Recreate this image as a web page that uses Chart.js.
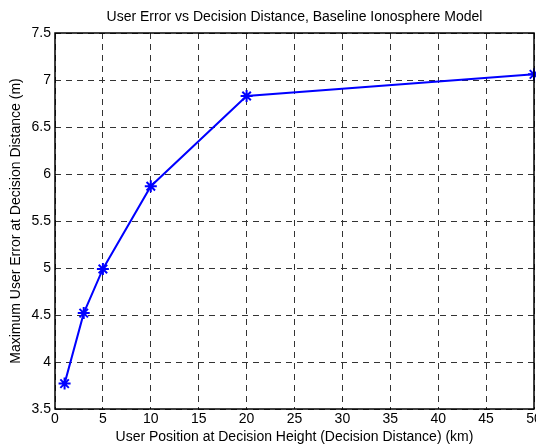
<!DOCTYPE html>
<html>
<head>
<meta charset="utf-8">
<script src="https://cdn.jsdelivr.net/npm/chart.js@4"></script>
<style>
  html, body { margin: 0; padding: 0; background: #fff; }
  #wrap { width: 536px; height: 446px; }
</style>
</head>
<body>
<div id="wrap"><canvas id="userErrorChart" width="536" height="446"></canvas></div>
<script>
const distances = [1, 3, 5, 10, 20, 50];
const userError = [3.77, 4.52, 4.99, 5.87, 6.83, 7.06];
const chartTitle = 'User Error vs Decision Distance, Baseline Ionosphere Model';

// closed MATLAB-style axes box plus title centred over the plot area
const frameBox = {
    id: 'frameBox',
    afterDraw(chart) {
        const a = chart.chartArea;
        const c = chart.ctx;
        c.save();
        c.setLineDash([]);
        c.strokeStyle = '#000';
        c.lineWidth = 1.5;
        c.strokeRect(a.left, a.top, a.right - a.left, a.bottom - a.top);
        c.fillStyle = '#000';
        c.font = '14px "Liberation Sans", Arial, sans-serif';
        c.textAlign = 'center';
        c.textBaseline = 'middle';
        c.fillText(chartTitle, (a.left + a.right) / 2, 17);
        c.restore();
    }
};

Chart.defaults.font.family = '"Liberation Sans", Arial, sans-serif';
Chart.defaults.font.size = 14;
Chart.defaults.color = '#000';

const ctx = document.getElementById('userErrorChart').getContext('2d');
const userErrorChart = new Chart(ctx, {
    type: 'line',
    data: {
        datasets: [{
            label: 'User Error',
            data: distances.map((d, i) => ({ x: d, y: userError[i] })),
            borderColor: '#0000ff',
            backgroundColor: '#0000ff',
            borderWidth: 2,
            pointStyle: 'star',
            pointRadius: 6,
            pointBorderWidth: 2,
            pointBorderColor: '#0000ff',
            tension: 0,
            clip: false
        }]
    },
    options: {
        responsive: false,
        animation: false,
        layout: { autoPadding: false, padding: { left: 0, right: 2, top: 33, bottom: 0 } },
        plugins: {
            legend: { display: false },
            tooltip: { enabled: false },
            title: { display: false }
        },
        scales: {
            x: {
                type: 'linear',
                min: 0,
                max: 50,
                ticks: { stepSize: 5, padding: 2 },
                grid: { color: '#333', lineWidth: 1, drawTicks: false },
                border: { display: false, dash: [6, 5] },
                title: {
                    display: true,
                    text: 'User Position at Decision Height (Decision Distance) (km)',
                    padding: { top: 0, bottom: 0 }
                },
                afterFit(scale) {
                    scale.height = 37;
                    scale.paddingRight = 0;
                }
            },
            y: {
                min: 3.5,
                max: 7.5,
                ticks: {
                    stepSize: 0.5,
                    padding: 4,
                    callback: (v) => String(Math.round(v * 10) / 10)
                },
                grid: { color: '#333', lineWidth: 1, drawTicks: false },
                border: { display: false, dash: [6, 5] },
                title: {
                    display: true,
                    text: 'Maximum User Error at Decision Distance (m)',
                    padding: { top: 8, bottom: 0 }
                },
                afterFit(scale) { scale.width = 55; }
            }
        }
    },
    plugins: [frameBox]
});
</script>
</body>
</html>
